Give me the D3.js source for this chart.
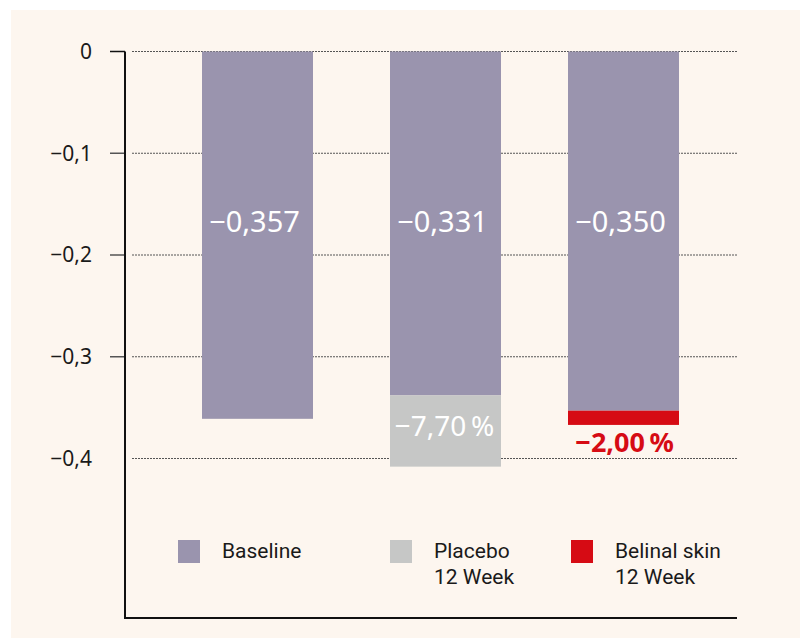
<!DOCTYPE html>
<html>
<head>
<meta charset="utf-8">
<script src="https://cdn.jsdelivr.net/npm/d3@7"></script>
<style>
  body { margin: 0; background: #fff; }
  svg { display: block; }
</style>
</head>
<body>
<script>
var width = 803,
    height = 638;

// data
var categories = ["Baseline", "Placebo", "Belinal"];
var baseValues = [-0.361, -0.338, -0.353];
var endValues = [null, -0.408, -0.367];
var baseLabels = ["\u22120,357", "\u22120,331", "\u22120,350"];
var changeLabels = [null, "\u22127,70\u2009%", "\u22122,00\u2009%"];
var tickValues = [0, -0.1, -0.2, -0.3, -0.4];
var tickLabels = ["0", "\u22120,1", "\u22120,2", "\u22120,3", "\u22120,4"];
var legendNames = [["Baseline"], ["Placebo", "12 Week"], ["Belinal skin", "12 Week"]];

var purple = "#9a94ae",
    grey = "#c6c7c6",
    red = "#d60b14";

var svg = d3.select("body").append("svg")
    .attr("width", width)
    .attr("height", height);

// cream panel
svg.append("rect")
    .attr("x", 11).attr("y", 10)
    .attr("width", 789).attr("height", 628)
    .attr("fill", "#fdf6ef");

var y = d3.scaleLinear()
    .domain([0, -0.4])
    .range([51.5, 458.5]);

// bars are not evenly spaced in the original
var x = d3.scaleOrdinal()
    .domain(categories)
    .range([202, 390, 568]);
var barWidth = 111;

var axisX = 125,
    axisBottom = 618,
    gridEnd = 737;

// gridlines
svg.append("g")
    .selectAll("line")
    .data(tickValues)
    .enter().append("line")
    .attr("x1", 132)
    .attr("x2", gridEnd)
    .attr("y1", function(d) { return y(d); })
    .attr("y2", function(d) { return y(d); })
    .attr("stroke", "#555")
    .attr("stroke-width", 1)
    .attr("stroke-dasharray", "2,1");

// bars: base part
svg.append("g")
    .selectAll("rect")
    .data(categories)
    .enter().append("rect")
    .attr("x", function(d) { return x(d); })
    .attr("width", barWidth)
    .attr("y", y(0))
    .attr("height", function(d, i) { return y(baseValues[i]) - y(0); })
    .attr("fill", purple);

// bars: change part
svg.append("g")
    .selectAll("rect")
    .data(categories.filter(function(d, i) { return endValues[i] !== null; }))
    .enter().append("rect")
    .attr("x", function(d) { return x(d); })
    .attr("width", barWidth)
    .attr("y", function(d) { var i = categories.indexOf(d); return y(baseValues[i]); })
    .attr("height", function(d) {
      var i = categories.indexOf(d);
      return y(endValues[i]) - y(baseValues[i]);
    })
    .attr("fill", function(d) { return d === "Placebo" ? grey : red; });

// value labels inside bars
svg.append("g")
    .selectAll("text")
    .data(categories)
    .enter().append("text")
    .attr("x", function(d) { return x(d) + barWidth / 2 - 3; })
    .attr("y", 232)
    .attr("text-anchor", "middle")
    .attr("fill", "#fff")
    .style("font-family", "'Noto Sans', sans-serif")
    .style("font-size", "29px")
    .text(function(d, i) { return baseLabels[i]; });

// change labels
svg.append("text")
    .attr("x", x("Placebo") + barWidth / 2 - 1)
    .attr("y", 436)
    .attr("text-anchor", "middle")
    .attr("fill", "#fff")
    .style("font-family", "'Noto Sans', sans-serif")
    .style("font-size", "28px")
    .text(changeLabels[1]);

svg.append("text")
    .attr("x", x("Belinal") + barWidth / 2 + 1)
    .attr("y", 452)
    .attr("text-anchor", "middle")
    .attr("fill", red)
    .style("font-family", "'Noto Sans', sans-serif")
    .style("font-weight", "bold")
    .style("font-size", "27px")
    .text(changeLabels[2]);

// y axis
var axis = svg.append("g");

axis.selectAll("line.tick")
    .data(tickValues.slice(0, 4))
    .enter().append("line")
    .attr("class", "tick")
    .attr("x1", 110)
    .attr("x2", axisX)
    .attr("y1", function(d) { return y(d); })
    .attr("y2", function(d) { return y(d); })
    .attr("stroke", function(d) { return d === 0 ? "#111" : "#555"; })
    .attr("stroke-width", 1.5);

axis.selectAll("text")
    .data(tickValues)
    .enter().append("text")
    .attr("x", 92)
    .attr("y", function(d) { return y(d); })
    .attr("dy", "0.35em")
    .attr("text-anchor", "end")
    .attr("fill", "#1a1a1a")
    .style("font-family", "'Noto Sans', sans-serif")
    .style("font-size", "21px")
    .text(function(d, i) { return tickLabels[i]; });

axis.append("path")
    .attr("d", "M" + axisX + "," + y(0) + "V" + axisBottom + "H" + gridEnd)
    .attr("fill", "none")
    .attr("stroke", "#111")
    .attr("stroke-width", 2);

// legend
var legendX = [178, 390, 571];

var legend = svg.append("g")
    .selectAll("g")
    .data(categories)
    .enter().append("g")
    .attr("transform", function(d, i) { return "translate(" + legendX[i] + ",540)"; });

legend.append("rect")
    .attr("width", 22)
    .attr("height", 23)
    .attr("fill", function(d, i) { return [purple, grey, red][i]; });

legend.append("text")
    .attr("x", 44)
    .attr("y", 18)
    .attr("fill", "#1a1a1a")
    .style("font-family", "Roboto, sans-serif")
    .style("font-size", "21px")
    .selectAll("tspan")
    .data(function(d, i) { return legendNames[i]; })
    .enter().append("tspan")
    .attr("x", 44)
    .attr("dy", function(d, j) { return j === 0 ? 0 : 26; })
    .text(function(d) { return d; });
</script>
</body>
</html>
